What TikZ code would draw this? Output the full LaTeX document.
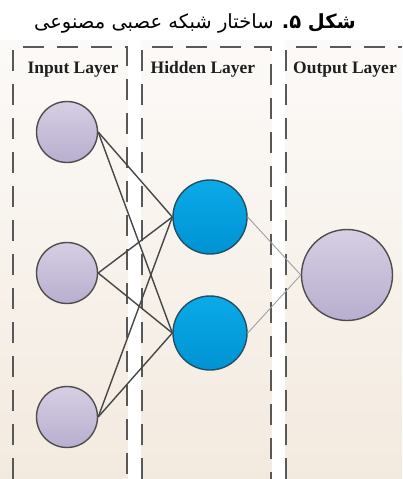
\documentclass[tikz,border=0pt]{standalone}
\usepackage{fontspec}
\setmainfont{Liberation Serif}
\newfontfamily\arabicfont[Script=Arabic]{DejaVu Sans}
\TeXXeTstate=1
\usetikzlibrary{backgrounds}

\definecolor{dashgray}{HTML}{585858}
\definecolor{linedark}{HTML}{474747}
\definecolor{linelight}{HTML}{A0A0A0}
\definecolor{lavtop}{HTML}{D6CFE4}
\definecolor{lavbot}{HTML}{B8AECF}
\definecolor{bluetop}{HTML}{0BAAE8}
\definecolor{bluebot}{HTML}{0093D3}
\definecolor{circborder}{HTML}{4D4D4D}
\definecolor{blueborder}{HTML}{234F63}
\definecolor{bgtop}{HTML}{FCFAF8}
\definecolor{bgbot}{HTML}{F3EADF}

\tikzset{
  layerline/.style={draw=dashgray, line width=2.2pt, dash pattern=on 21pt off 13pt},
  layerlabel/.style={font=\fontsize{17.5}{20}\selectfont\bfseries, text=black!88, anchor=base, inner sep=0pt},
  neuron/.style={circle, inner sep=0pt, draw=circborder, line width=1.4pt},
  inneuron/.style={neuron, minimum size=61pt, top color=lavtop, bottom color=lavbot},
  hidneuron/.style={neuron, minimum size=74pt, top color=bluetop, bottom color=bluebot, draw=blueborder},
  outneuron/.style={neuron, minimum size=91pt, top color=lavtop, bottom color=lavbot},
  wdark/.style={draw=linedark, line width=1.4pt},
  wlight/.style={draw=linelight, line width=0.9pt},
}

\begin{document}
\begin{tikzpicture}[x=1pt, y=-1pt]
  \useasboundingbox (0,0) rectangle (402,479);
  \fill[white] (0,0) rectangle (402,479);

  % shaded panel behind the three layers
  \shade[top color=bgtop, bottom color=bgbot] (0,40) rectangle (402,479);
  \fill[white] (128,40) rectangle (141,479);
  \fill[white] (272,40) rectangle (285,479);

  % caption
  \node[anchor=base, inner sep=0pt, font=\arabicfont\fontsize{19.5}{22}\selectfont] (caption) at (195,28)
    {\beginR{\bfseries شکل ۵.} ساختار شبکه عصبی مصنوعی\endR};

  % layer frames (open at the bottom)
  \draw[layerline] (13,479) -- (13,47) -- (127,47) -- (127,479);
  \draw[layerline] (142,479) -- (142,47) -- (271,47) -- (271,479);
  \draw[layerline] (286,479) -- (286,47) -- (402,47);

  % layer titles
  \node[layerlabel] (linput) at (73,73) {Input Layer};
  \node[layerlabel] (lhidden) at (203,73) {Hidden Layer};
  \node[layerlabel] (loutput) at (345,73) {Output Layer};

  % neurons
  \node[inneuron] (i1) at (67,132) {};
  \node[inneuron] (i2) at (67,273) {};
  \node[inneuron] (i3) at (67,417) {};
  \node[hidneuron] (h1) at (210,217) {};
  \node[hidneuron] (h2) at (210,333) {};
  \node[outneuron] (o1) at (347,275) {};

  % weights
  \foreach \i in {i1,i2,i3}
    \foreach \h in {h1,h2}
      \draw[wdark] (\i.east) -- (\h.west);
  \draw[wlight] (h1.east) -- (o1.west);
  \draw[wlight] (h2.east) -- (o1.west);
\end{tikzpicture}
\end{document}
